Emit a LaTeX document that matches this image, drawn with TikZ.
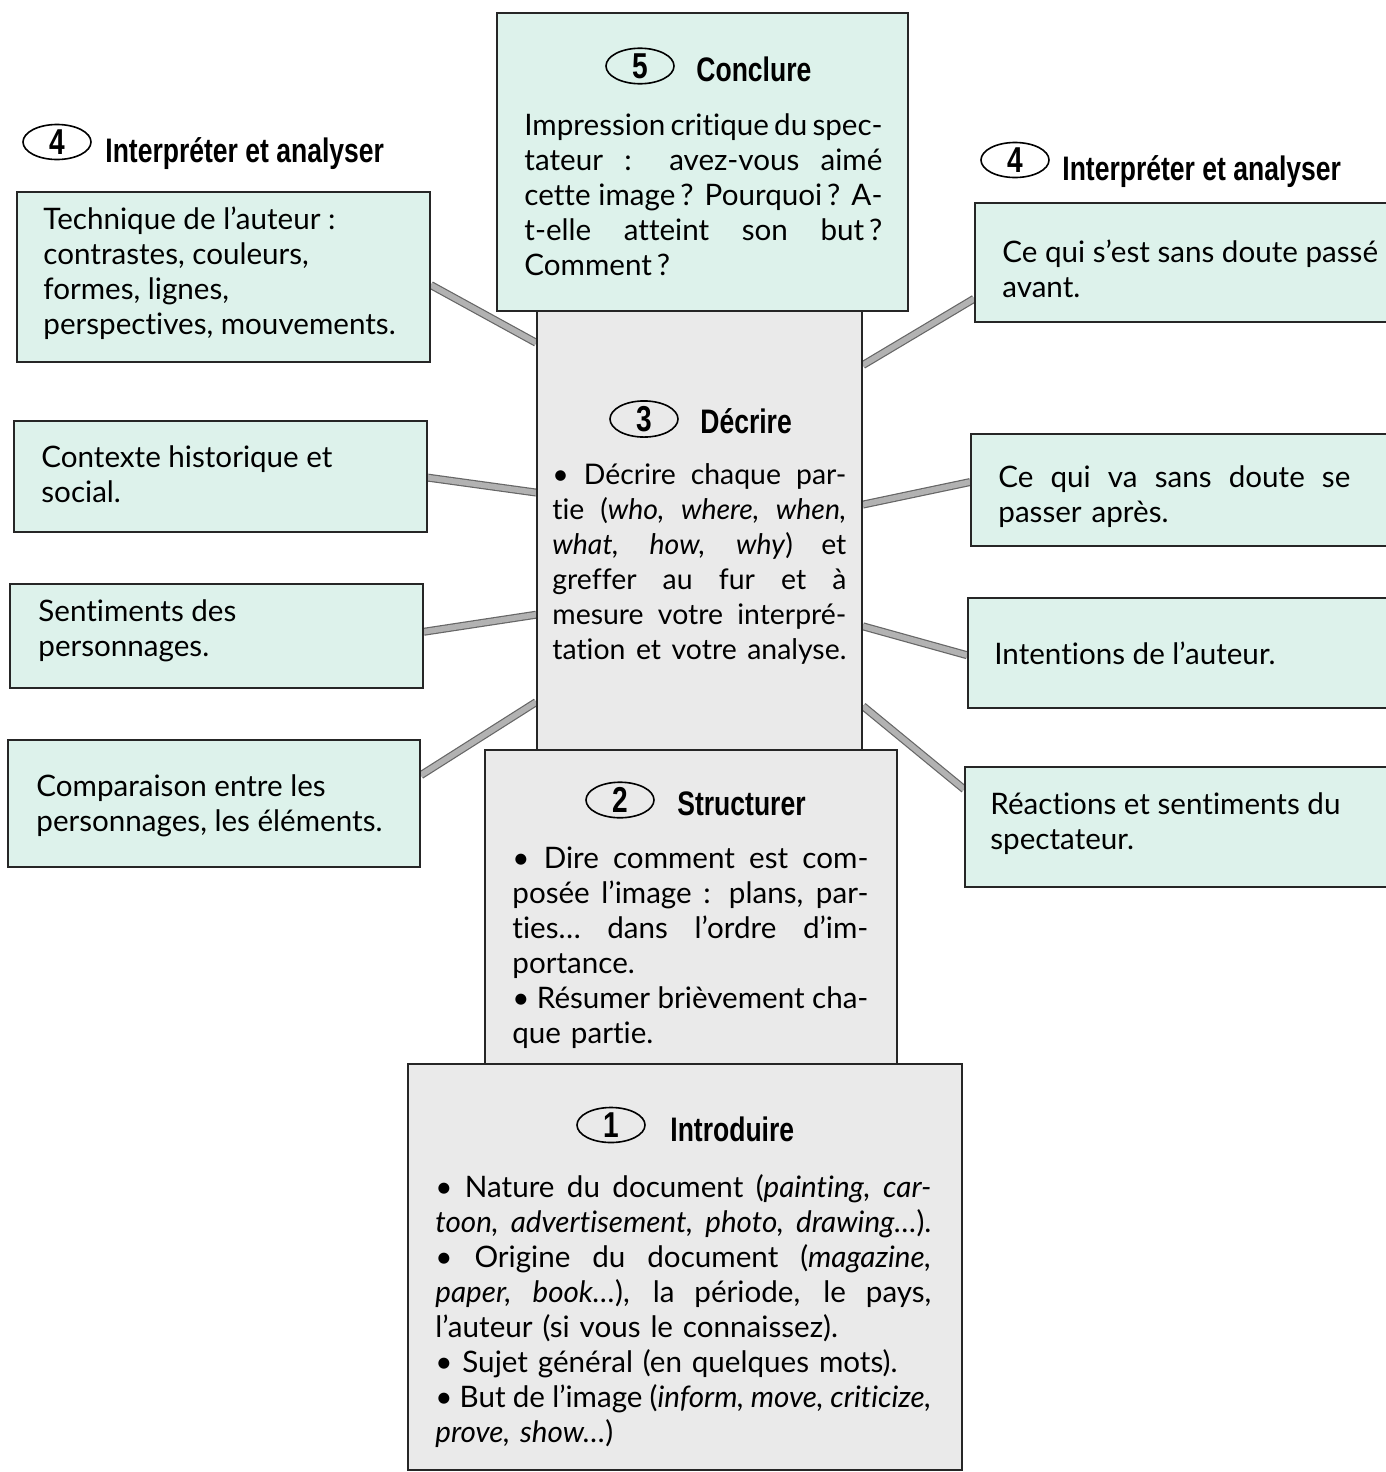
\documentclass[tikz,border=0pt]{standalone}
\usepackage{fontspec}
\setmainfont{Lato}[Ligatures=NoCommon]
\newfontfamily\headfont[FakeStretch=0.78]{Liberation Sans}
\usetikzlibrary{fit,backgrounds,calc,shapes.geometric}
\definecolor{mint}{RGB}{221,242,235}
\definecolor{paper}{RGB}{234,234,234}
\newcommand\J[1]{\makebox[\hsize][s]{\spaceskip=0pt\xspaceskip=0pt #1}}
\tikzset{
 cbox/.style={draw=black!85, line width=0.9pt, fill=mint, inner sep=0pt},
 gbox/.style={draw=black!85, line width=0.9pt, fill=paper, inner sep=0pt},
 num/.style={draw, ellipse, line width=0.8pt, minimum width=34pt, minimum height=17.5pt, inner sep=0pt, font=\headfont\bfseries\fontsize{18}{18}\selectfont},
 head/.style={anchor=base west, inner sep=0pt, font=\headfont\bfseries\fontsize{17}{17}\selectfont},
 body/.style={anchor=north west, inner sep=0pt, align=left, font=\fontsize{14.8}{17.5}\selectfont},
 link/.style={draw=black!60, line width=0.6pt, double=gray!60, double distance=2.8pt},
}
\begin{document}
\begin{tikzpicture}[x=0.5pt,y=-0.5pt]
\useasboundingbox (0,0) rectangle (1386,1472);
% boxes
\node[cbox, fit={(17,192) (430,362)}] (L1) {};
\node[cbox, fit={(14,421) (427,532)}] (L2) {};
\node[cbox, fit={(10,584) (423,688)}] (L3) {};
\node[cbox, fit={(8,740) (420,867)}] (L4) {};
\node[cbox, fit={(975,203) (1400,322)}] (R1) {};
\node[cbox, fit={(971,434) (1400,546)}] (R2) {};
\node[cbox, fit={(968,598) (1400,708)}] (R3) {};
\node[cbox, fit={(965,767) (1400,887)}] (R4) {};
\node[gbox, fit={(537,308) (862,752)}] (D) {};
\node[cbox, fit={(497,13) (908,311)}] (C) {};
\node[gbox, fit={(485,750) (897,1070)}] (S) {};
\node[gbox, fit={(408,1064) (962,1470)}] (I) {};
% connectors
\begin{scope}[on background layer]
\draw[link] ($(L1.north east)!0.547!(L1.south east)$) -- ($(D.north west)!0.08!(D.south west)$);
\draw[link] ($(L2.north east)!0.51!(L2.south east)$) -- ($(D.north west)!0.416!(D.south west)$);
\draw[link] ($(L3.north east)!0.46!(L3.south east)$) -- ($(D.north west)!0.69!(D.south west)$);
\draw[link] ($(L4.north east)!0.28!(L4.south east)$) -- ($(D.north west)!0.886!(D.south west)$);
\draw[link] ($(R1.north west)!0.80!(R1.south west)$) -- ($(D.north east)!0.13!(D.south east)$);
\draw[link] ($(R2.north west)!0.43!(R2.south west)$) -- ($(D.north east)!0.443!(D.south east)$);
\draw[link] ($(R3.north west)!0.52!(R3.south west)$) -- ($(D.north east)!0.716!(D.south east)$);
\draw[link] ($(R4.north west)!0.19!(R4.south west)$) -- ($(D.north east)!0.895!(D.south east)$);
\end{scope}
% headers
\node[num] (n5) at (640,66) {5}; \node[head] (h5) at (696,81) {Conclure};
\node[num] (n4l) at (57,142) {4}; \node[head] (h4l) at (105,162) {Interpréter et analyser};
\node[num] (n4r) at (1015,160) {4}; \node[head] (h4r) at (1062,180) {Interpréter et analyser};
\node[num] (n3) at (644,419) {3}; \node[head] (h3) at (700,433) {Décrire};
\node[num] (n2) at (620,800) {2}; \node[head] (h2) at (677,815) {Structurer};
\node[num] (n1) at (611,1125) {1}; \node[head] (h1) at (670,1141) {Introduire};
% texts
\node[body] (tL1) at (43,206) {Technique de l’auteur :\\contrastes, couleurs,\\formes, lignes,\\perspectives, mouvements.};
\node[body] (tL2) at (41,445) {Contexte historique et\\social.};
\node[body] (tL3) at (38,599) {Sentiments des\\personnages.};
\node[body] (tL4) at (36,774) {Comparaison entre les\\personnages, les éléments.};
\node[body] (tR1) at (1002,239) {Ce qui s’est sans doute passé\\avant.};
\node[body, text width=176pt] (tR2) at (998,465) {\J{Ce qui va sans doute se}\\passer après.};
\node[body] (tR3) at (994,641) {Intentions de l’auteur.};
\node[body] (tR4) at (990,792) {Réactions et sentiments du\\spectateur.};
\node[body, text width=179pt] (tC) at (524,113) {\J{Impression critique du spec-}\\\J{tateur : avez-vous aimé}\\\J{cette image\,? Pourquoi\,? A-}\\\J{t-elle atteint son but\,?}\\Comment\,?};
\node[body, text width=147pt, font=\fontsize{14.2}{17.5}\selectfont] (tD) at (552,463) {\J{• Décrire chaque par-}\\\J{tie (\textit{who, where, when,}}\\\J{\textit{what, how, why}) et}\\\J{greffer au fur et à}\\\J{mesure votre interpré-}\\\J{tation et votre analyse.}};
\node[body, text width=178pt] (tS) at (512,846) {\J{• Dire comment est com-}\\\J{posée l’image : plans, par-}\\\J{ties… dans l’ordre d’im-}\\portance.\\\J{• Résumer brièvement cha-}\\que partie.};
\node[body, text width=248pt] (tI) at (435,1174) {\J{• Nature du document (\textit{painting, car-}}\\\J{\textit{toon, advertisement, photo, drawing…}).}\\\J{• Origine du document (\textit{magazine,}}\\\J{\textit{paper, book…}), la période, le pays,}\\l’auteur (si vous le connaissez).\\• Sujet général (en quelques mots).\\\J{• But de l’image (\textit{inform, move, criticize,}}\\\textit{prove, show…})};
\end{tikzpicture}
\end{document}
